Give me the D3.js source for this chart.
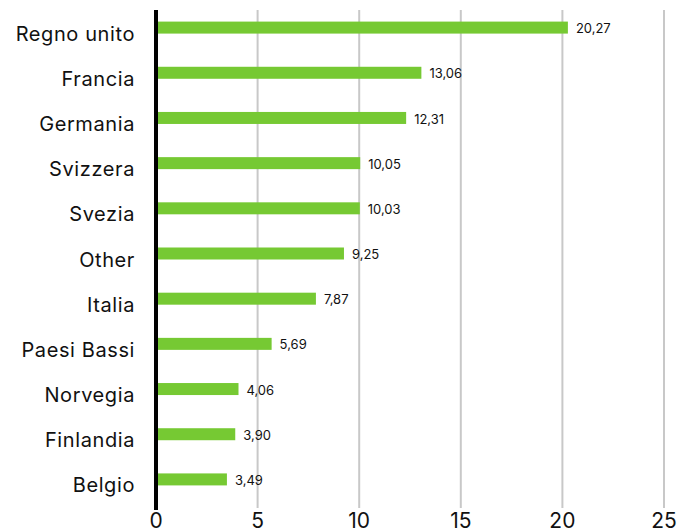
<!DOCTYPE html>
<meta charset="utf-8">
<script src="https://d3js.org/d3.v7.min.js"></script>
<style>
  body { margin: 0; background: #fff; }
  text { font-family: Inter, "Open Sans", sans-serif; fill: #111; }
</style>
<div id="chart"></div>
<script>
  // data
  const countries = ["Regno unito", "Francia", "Germania", "Svizzera", "Svezia", "Other",
                     "Italia", "Paesi Bassi", "Norvegia", "Finlandia", "Belgio"];
  const values = [20.27, 13.06, 12.31, 10.05, 10.03, 9.25, 7.87, 5.69, 4.06, 3.90, 3.49];
  const ticks = [0, 5, 10, 15, 20, 25];

  const width = 689, height = 531;

  const svg = d3.select("#chart")
    .append("svg")
    .attr("width", width)
    .attr("height", height);

  const x = d3.scaleLinear()
    .domain([0, 25])
    .range([156, 664]);

  const y = d3.scaleBand()
    .domain(countries)
    .range([5, 502])
    .padding(0);

  // grid lines
  svg.append("g")
    .selectAll("line")
    .data(ticks.slice(1))
    .join("line")
    .attr("x1", d => x(d))
    .attr("x2", d => x(d))
    .attr("y1", 10)
    .attr("y2", 508)
    .attr("stroke", "#c8c8c8")
    .attr("stroke-width", 2);

  // x tick labels
  svg.append("g")
    .selectAll("text")
    .data(ticks)
    .join("text")
    .attr("x", d => x(d))
    .attr("y", 528)
    .attr("text-anchor", "middle")
    .style("font-size", "21px")
    .text(d => d);

  // bars
  const barH = 12;
  svg.append("g")
    .selectAll("rect")
    .data(values)
    .join("rect")
    .attr("x", x(0) + 2)
    .attr("y", (d, i) => y(countries[i]) + y.bandwidth() / 2 - barH / 2)
    .attr("width", d => x(d) - x(0) - 2)
    .attr("height", barH)
    .attr("fill", "#76c933");

  // value labels
  svg.append("g")
    .selectAll("text")
    .data(values)
    .join("text")
    .attr("x", d => x(d) + 8)
    .attr("y", (d, i) => y(countries[i]) + y.bandwidth() / 2 + 1)
    .attr("dy", "0.35em")
    .style("font-size", "13px")
    .text(d => d.toFixed(2).replace(".", ","));

  // category labels
  svg.append("g")
    .selectAll("text")
    .data(countries)
    .join("text")
    .attr("x", 135)
    .attr("y", d => y(d) + y.bandwidth() / 2 + 6)
    .attr("dy", "0.35em")
    .attr("text-anchor", "end")
    .style("font-size", "20px")
    .style("letter-spacing", "0.6px")
    .text(d => d);

  // y axis line
  svg.append("line")
    .attr("x1", x(0))
    .attr("x2", x(0))
    .attr("y1", 10)
    .attr("y2", 510)
    .attr("stroke", "#000")
    .attr("stroke-width", 4);
</script>
